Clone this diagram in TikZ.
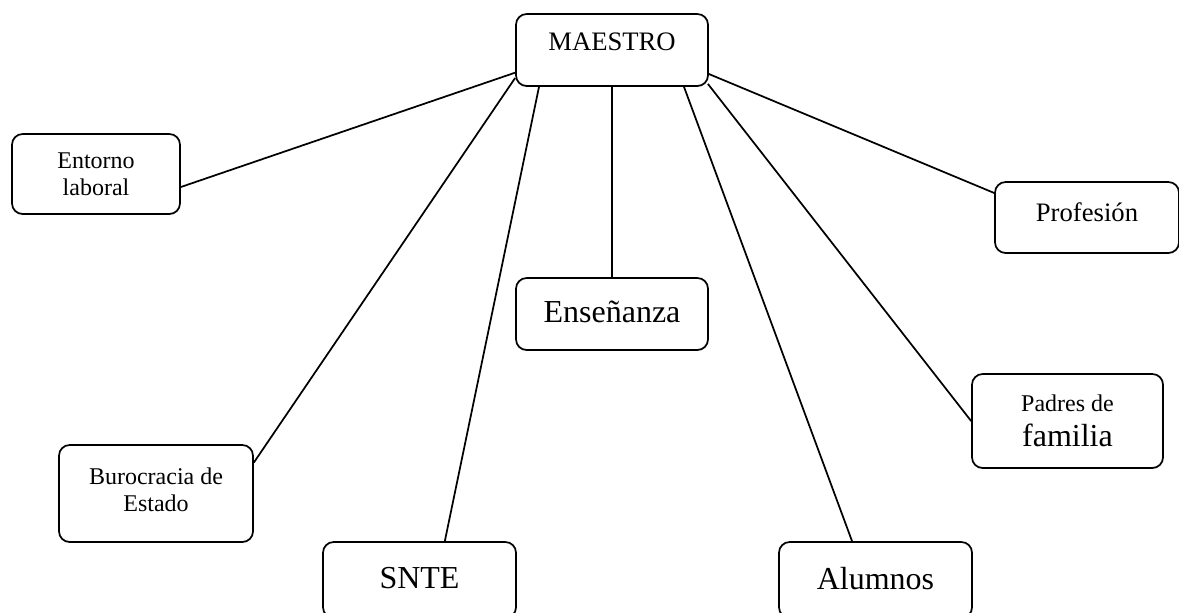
\documentclass[tikz,border=0pt]{standalone}
\usepackage{fontspec}
\setmainfont{Liberation Serif}
\usetikzlibrary{positioning,calc}
\tikzstyle{caja} = [draw, rounded corners=8pt, inner sep=0pt, line width=1.3pt, align=center, minimum width=144pt, minimum height=54pt]
\tikzstyle{linea} = [line width=1.3pt]

\begin{document}
\begin{tikzpicture}[x=0.75pt,y=-0.75pt]
      \useasboundingbox (0,0) rectangle (1179,612);
      %%%%%%%%%%%%%%%%%%%%%%%%%%%%%%%%%%%%%%%
      \draw (612,50) node (maestro) [caja, text depth=12pt, font=\fontsize{20}{24}\selectfont] {MAESTRO};
      \draw (96,174) node (entorno) [caja, minimum width=126pt, minimum height=60pt, font=\fontsize{18}{20.5}\selectfont] {Entorno\\laboral};
      \draw (1087,217.5) node (profesion) [caja, minimum width=138pt, minimum height=53.25pt, text depth=8pt, font=\fontsize{20}{24}\selectfont] {Profesión};
      \draw (612,314) node (ensenanza) [caja, text depth=4pt, font=\fontsize{24}{28}\selectfont] {Enseñanza};
      \draw (156,493.5) node (burocracia) [caja, minimum width=145.5pt, minimum height=72.75pt, text depth=6pt, font=\fontsize{18}{20.5}\selectfont] {Burocracia de\\Estado};
      \draw (419.5,580) node (snte) [caja, minimum width=144.75pt, minimum height=57pt, text depth=3pt, font=\fontsize{24}{28}\selectfont] {SNTE};
      \draw (875.5,580) node (alumnos) [caja, minimum width=144.75pt, minimum height=57pt, text depth=3pt, font=\fontsize{24}{28}\selectfont] {Alumnos};
      \draw (1067.5,421) node (padres) [caja, minimum width=143.25pt, minimum height=70.5pt, font=\fontsize{18}{26}\selectfont] {Padres de\\{\fontsize{24}{26}\selectfont familia}};
      %%%%%%%%%%%%%%%%%%%%%%%%%%%%%%%%%%%%%%%
      \draw[linea] ([yshift=-17pt]maestro.west)--([yshift=-9.75pt]entorno.east);
      \draw[linea] ([yshift=-21pt]maestro.west)--([yshift=23.25pt]burocracia.east);
      \draw[linea] ([xshift=-54.75pt]maestro.south)--([xshift=19pt]snte.north);
      \draw[linea] (maestro.south)--(ensenanza.north);
      \draw[linea] ([xshift=54pt]maestro.south)--([xshift=-17.6pt]alumnos.north);
      \draw[linea] ([shift={(-0.75pt,2.25pt)}]maestro.south east)--(padres.west);
      \draw[linea] ([yshift=-18pt]maestro.east)--([yshift=18.4pt]profesion.west);
      %\draw[linea] (maestro)--(profesion);
\end{tikzpicture}
\end{document}
